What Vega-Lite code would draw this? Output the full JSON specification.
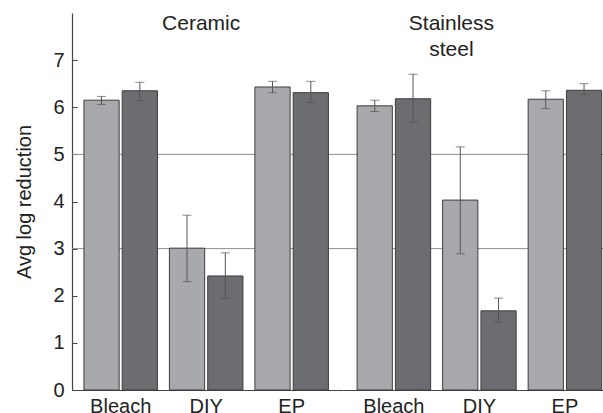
{
  "$schema": "https://vega.github.io/schema/vega-lite/v6.json",
  "padding": {"left": 14, "top": 12, "right": 0, "bottom": 0},
  "background": "white",
  "spacing": 0,
  "bounds": "flush",
  "config": {
    "view": {"stroke": null},
    "font": "Liberation Sans",
    "concat": {"spacing": 0},
    "axis": {
      "labelFont": "Liberation Sans", "labelFontSize": 20, "labelColor": "#222",
      "titleFont": "Liberation Sans", "titleFontSize": 20, "titleFontWeight": "normal", "titleColor": "#222",
      "domainColor": "#444", "domainWidth": 1.2, "tickColor": "#444", "grid": false
    }
  },
  "datasets": {
    "bars": [
      {"material": "Ceramic", "treatment": "Bleach", "series": "A", "value": 6.15, "lo": 6.06, "hi": 6.23},
      {"material": "Ceramic", "treatment": "Bleach", "series": "B", "value": 6.35, "lo": 6.14, "hi": 6.53},
      {"material": "Ceramic", "treatment": "DIY", "series": "A", "value": 3.01, "lo": 2.30, "hi": 3.71},
      {"material": "Ceramic", "treatment": "DIY", "series": "B", "value": 2.42, "lo": 1.94, "hi": 2.91},
      {"material": "Ceramic", "treatment": "EP", "series": "A", "value": 6.43, "lo": 6.31, "hi": 6.55},
      {"material": "Ceramic", "treatment": "EP", "series": "B", "value": 6.31, "lo": 6.10, "hi": 6.55},
      {"material": "Stainless steel", "treatment": "Bleach", "series": "A", "value": 6.03, "lo": 5.91, "hi": 6.15},
      {"material": "Stainless steel", "treatment": "Bleach", "series": "B", "value": 6.18, "lo": 5.69, "hi": 6.70},
      {"material": "Stainless steel", "treatment": "DIY", "series": "A", "value": 4.03, "lo": 2.89, "hi": 5.16},
      {"material": "Stainless steel", "treatment": "DIY", "series": "B", "value": 1.68, "lo": 1.44, "hi": 1.95},
      {"material": "Stainless steel", "treatment": "EP", "series": "A", "value": 6.17, "lo": 5.97, "hi": 6.35},
      {"material": "Stainless steel", "treatment": "EP", "series": "B", "value": 6.36, "lo": 6.27, "hi": 6.50}
    ],
    "grid": [{"y": 3}, {"y": 5}],
    "titles": [
      {"material": "Ceramic", "label": "Ceramic", "pos": "DIY", "yv": 7.64},
      {"material": "Stainless steel", "label": "Stainless\nsteel", "pos": "DIY", "yv": 7.64}
    ]
  },
  "hconcat": [
    {
      "width": 271,
      "height": 377,
      "layer": [
        {
          "data": {"name": "grid"},
          "mark": {"type": "rule", "color": "#8c8c8c", "strokeWidth": 1},
          "encoding": {
            "y": {"field": "y", "type": "quantitative", "title": "Avg log reduction",
                  "scale": {"domain": [0, 8], "nice": false},
                  "axis": {"values": [0, 1, 2, 3, 4, 5, 6, 7], "tickSize": -5, "labelPadding": 13, "titlePadding": 18}}
          }
        },
        {
          "data": {"name": "bars"},
          "transform": [{"filter": "datum.material === 'Ceramic'"}],
          "mark": {"type": "bar", "stroke": "#3d3d3d", "strokeWidth": 1},
          "encoding": {
            "x": {"field": "treatment", "type": "nominal", "sort": ["Bleach", "DIY", "EP"], "title": null,
                  "scale": {"paddingInner": 0.14, "paddingOuter": 0.155, "align": 0.45},
                  "axis": {"ticks": false, "labelAngle": 0, "labelPadding": 6}},
            "xOffset": {"field": "series", "type": "nominal", "scale": {"paddingInner": 0.08, "paddingOuter": 0}},
            "y": {"field": "value", "type": "quantitative", "title": "Avg log reduction"},
            "color": {"field": "series", "type": "nominal", "legend": null,
                      "scale": {"domain": ["A", "B"], "range": ["#a8a9ac", "#6c6d70"]}}
          }
        },
        {
          "data": {"name": "bars"},
          "transform": [{"filter": "datum.material === 'Ceramic'"}],
          "mark": {"type": "rule", "color": "#555", "strokeWidth": 1},
          "encoding": {
            "x": {"field": "treatment", "type": "nominal", "sort": ["Bleach", "DIY", "EP"], "title": null},
            "xOffset": {"field": "series", "type": "nominal"},
            "y": {"field": "lo", "type": "quantitative", "title": "Avg log reduction"},
            "y2": {"field": "hi"}
          }
        },
        {
          "data": {"name": "bars"},
          "transform": [{"filter": "datum.material === 'Ceramic'"}],
          "mark": {"type": "tick", "color": "#555", "size": 9, "thickness": 1},
          "encoding": {
            "x": {"field": "treatment", "type": "nominal", "sort": ["Bleach", "DIY", "EP"], "title": null},
            "xOffset": {"field": "series", "type": "nominal"},
            "y": {"field": "lo", "type": "quantitative", "title": "Avg log reduction"}
          }
        },
        {
          "data": {"name": "bars"},
          "transform": [{"filter": "datum.material === 'Ceramic'"}],
          "mark": {"type": "tick", "color": "#555", "size": 9, "thickness": 1},
          "encoding": {
            "x": {"field": "treatment", "type": "nominal", "sort": ["Bleach", "DIY", "EP"], "title": null},
            "xOffset": {"field": "series", "type": "nominal"},
            "y": {"field": "hi", "type": "quantitative", "title": "Avg log reduction"}
          }
        },
        {
          "data": {"name": "titles"},
          "transform": [{"filter": "datum.material === 'Ceramic'"}],
          "mark": {"type": "text", "fontSize": 21, "color": "#222", "baseline": "alphabetic", "align": "center", "dx": -5, "lineBreak": "\n", "lineHeight": 26},
          "encoding": {
            "x": {"field": "pos", "type": "nominal", "sort": ["Bleach", "DIY", "EP"], "title": null},
            "y": {"field": "yv", "type": "quantitative", "title": "Avg log reduction"},
            "text": {"field": "label"}
          }
        }
      ]
    },
    {
      "width": 261,
      "height": 377,
      "layer": [
        {
          "data": {"name": "grid"},
          "mark": {"type": "rule", "color": "#8c8c8c", "strokeWidth": 1},
          "encoding": {
            "y": {"field": "y", "type": "quantitative", "scale": {"domain": [0, 8], "nice": false}, "axis": null}
          }
        },
        {
          "data": {"name": "bars"},
          "transform": [{"filter": "datum.material === 'Stainless steel'"}],
          "mark": {"type": "bar", "stroke": "#3d3d3d", "strokeWidth": 1},
          "encoding": {
            "x": {"field": "treatment", "type": "nominal", "sort": ["Bleach", "DIY", "EP"], "title": null,
                  "scale": {"paddingInner": 0.14, "paddingOuter": 0.096, "align": 0.86},
                  "axis": {"ticks": false, "labelAngle": 0, "labelPadding": 6}},
            "xOffset": {"field": "series", "type": "nominal", "scale": {"paddingInner": 0.08, "paddingOuter": 0}},
            "y": {"field": "value", "type": "quantitative", "axis": null},
            "color": {"field": "series", "type": "nominal", "legend": null,
                      "scale": {"domain": ["A", "B"], "range": ["#a8a9ac", "#6c6d70"]}}
          }
        },
        {
          "data": {"name": "bars"},
          "transform": [{"filter": "datum.material === 'Stainless steel'"}],
          "mark": {"type": "rule", "color": "#555", "strokeWidth": 1},
          "encoding": {
            "x": {"field": "treatment", "type": "nominal", "sort": ["Bleach", "DIY", "EP"], "title": null},
            "xOffset": {"field": "series", "type": "nominal"},
            "y": {"field": "lo", "type": "quantitative", "axis": null},
            "y2": {"field": "hi"}
          }
        },
        {
          "data": {"name": "bars"},
          "transform": [{"filter": "datum.material === 'Stainless steel'"}],
          "mark": {"type": "tick", "color": "#555", "size": 9, "thickness": 1},
          "encoding": {
            "x": {"field": "treatment", "type": "nominal", "sort": ["Bleach", "DIY", "EP"], "title": null},
            "xOffset": {"field": "series", "type": "nominal"},
            "y": {"field": "lo", "type": "quantitative", "axis": null}
          }
        },
        {
          "data": {"name": "bars"},
          "transform": [{"filter": "datum.material === 'Stainless steel'"}],
          "mark": {"type": "tick", "color": "#555", "size": 9, "thickness": 1},
          "encoding": {
            "x": {"field": "treatment", "type": "nominal", "sort": ["Bleach", "DIY", "EP"], "title": null},
            "xOffset": {"field": "series", "type": "nominal"},
            "y": {"field": "hi", "type": "quantitative", "axis": null}
          }
        },
        {
          "data": {"name": "titles"},
          "transform": [{"filter": "datum.material === 'Stainless steel'"}],
          "mark": {"type": "text", "fontSize": 21, "color": "#222", "baseline": "alphabetic", "align": "center", "dx": -28, "lineBreak": "\n", "lineHeight": 26},
          "encoding": {
            "x": {"field": "pos", "type": "nominal", "sort": ["Bleach", "DIY", "EP"], "title": null},
            "y": {"field": "yv", "type": "quantitative", "axis": null},
            "text": {"field": "label"}
          }
        }
      ]
    }
  ]
}
